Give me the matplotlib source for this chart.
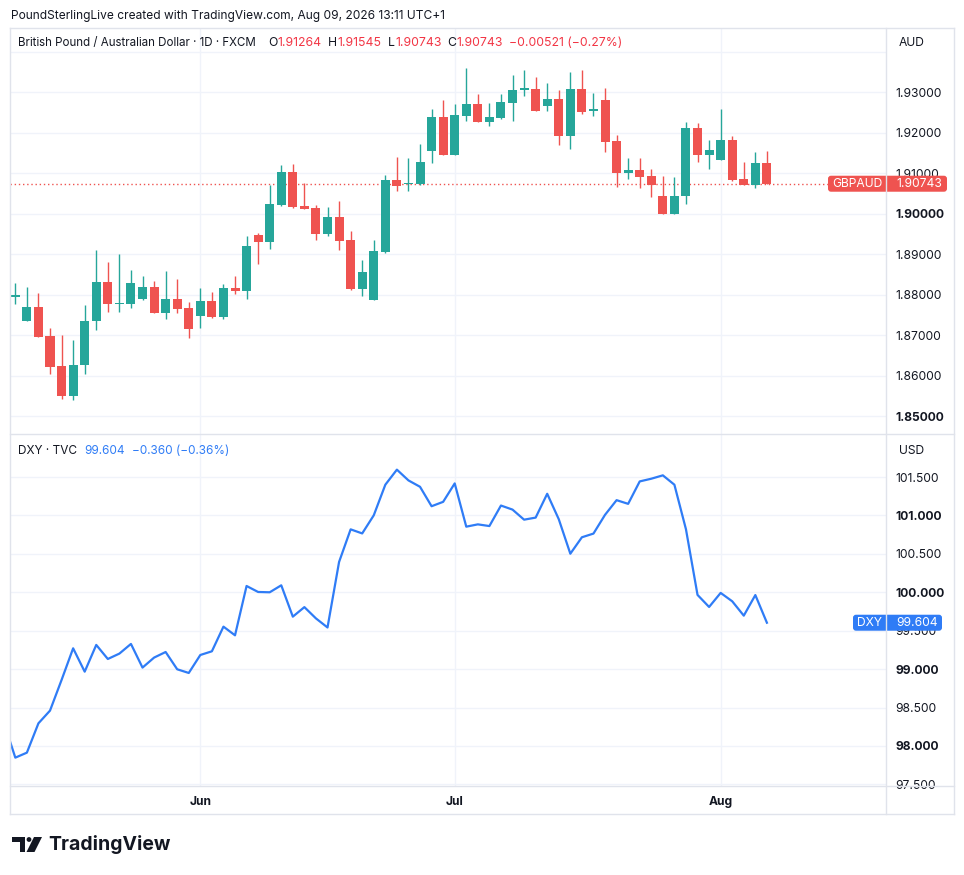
import numpy as np
import matplotlib.pyplot as plt
from matplotlib.lines import Line2D
from matplotlib.patches import FancyBboxPatch, Polygon, Circle
from matplotlib.transforms import IdentityTransform

plt.rcParams['font.family'] = ['Inter', 'DejaVu Sans']

# ---- data (daily bars, 8 May - 7 Aug 2026) ----
gbpaud_open = [1.8795, 1.8736, 1.8770, 1.8698, 1.8624, 1.8551, 1.8627, 1.8734, 1.8832, 1.8776,
               1.8778, 1.8790, 1.8819, 1.8756, 1.8790, 1.8767, 1.8748, 1.8785, 1.8746, 1.8817,
               1.8809, 1.8947, 1.8931, 1.9022, 1.9103, 1.9019, 1.9014, 1.8950, 1.8992, 1.8935,
               1.8814, 1.8787, 1.8906, 1.9083, 1.9073, 1.9073, 1.9155, 1.9239, 1.9145, 1.9242,
               1.9271, 1.9226, 1.9236, 1.9274, 1.9307, 1.9308, 1.9266, 1.9283, 1.9192, 1.9308,
               1.9254, 1.9281, 1.9179, 1.9101, 1.9107, 1.9093, 1.9045, 1.8999, 1.9044, 1.9212,
               1.9145, 1.9133, 1.9182, 1.9085, 1.9071, 1.91264]
gbpaud_high = [1.8828, 1.8819, 1.8804, 1.8718, 1.8701, 1.8688, 1.8775, 1.8911, 1.8881, 1.8901,
               1.8861, 1.8846, 1.8834, 1.8859, 1.8839, 1.8781, 1.8817, 1.8807, 1.8827, 1.8846,
               1.8945, 1.8952, 1.9071, 1.9121, 1.9123, 1.9076, 1.9021, 1.9017, 1.9031, 1.8957,
               1.8885, 1.8935, 1.9096, 1.9140, 1.9138, 1.9172, 1.9259, 1.9281, 1.9271, 1.9360,
               1.9296, 1.9274, 1.9296, 1.9343, 1.9355, 1.9338, 1.9323, 1.9306, 1.9350, 1.9355,
               1.9298, 1.9311, 1.9194, 1.9137, 1.9137, 1.9110, 1.9093, 1.9090, 1.9226, 1.9224,
               1.9182, 1.9259, 1.9192, 1.9127, 1.9152, 1.91545]
gbpaud_low = [1.8778, 1.8736, 1.8696, 1.8605, 1.8543, 1.8541, 1.8605, 1.8714, 1.8758, 1.8758,
              1.8768, 1.8786, 1.8756, 1.8741, 1.8756, 1.8694, 1.8719, 1.8743, 1.8739, 1.8803,
              1.8789, 1.8876, 1.8913, 1.9020, 1.9015, 1.9012, 1.8936, 1.8945, 1.8911, 1.8812,
              1.8797, 1.8787, 1.8903, 1.9057, 1.9057, 1.9072, 1.9126, 1.9145, 1.9145, 1.9229,
              1.9226, 1.9217, 1.9234, 1.9229, 1.9292, 1.9254, 1.9254, 1.9169, 1.9160, 1.9246,
              1.9241, 1.9152, 1.9066, 1.9086, 1.9064, 1.9041, 1.8999, 1.8999, 1.9024, 1.9128,
              1.9111, 1.9133, 1.9081, 1.9071, 1.9064, 1.90743]
gbpaud_close = [1.8797, 1.8770, 1.8696, 1.8622, 1.8551, 1.8627, 1.8735, 1.8832, 1.8776, 1.8780,
                1.8829, 1.8819, 1.8756, 1.8790, 1.8766, 1.8716, 1.8785, 1.8746, 1.8817, 1.8810,
                1.8920, 1.8931, 1.9024, 1.9103, 1.9017, 1.9012, 1.8950, 1.8992, 1.8933, 1.8814,
                1.8855, 1.8907, 1.9083, 1.9069, 1.9074, 1.9127, 1.9239, 1.9145, 1.9244, 1.9271,
                1.9226, 1.9239, 1.9276, 1.9306, 1.9308, 1.9254, 1.9283, 1.9192, 1.9308, 1.9251,
                1.9255, 1.9177, 1.9101, 1.9107, 1.9091, 1.9071, 1.8999, 1.9045, 1.9212, 1.9145,
                1.9157, 1.9182, 1.9083, 1.9071, 1.91264, 1.90743]

# DXY closes, starting one day earlier (7 May)
dxy_close = [98.31, 97.848, 97.913, 98.295, 98.460, 98.859, 99.271, 98.967, 99.315, 99.132,
             99.202, 99.328, 99.020, 99.150, 99.223, 98.998, 98.950, 99.184, 99.232, 99.553,
             99.440, 100.082, 100.004, 100.000, 100.091, 99.683, 99.807, 99.660, 99.542, 100.395,
             100.819, 100.766, 101.002, 101.400, 101.596, 101.456, 101.373, 101.120, 101.177, 101.417,
             100.854, 100.884, 100.862, 101.129, 101.076, 100.945, 100.972, 101.282, 100.951, 100.502,
             100.716, 100.764, 101.008, 101.199, 101.151, 101.443, 101.478, 101.522, 101.400, 100.820,
             99.966, 99.809, 99.992, 99.883, 99.696, 99.964, 99.604]

month_labels = ['Jun', 'Jul', 'Aug']
month_bar = [16, 38, 61]          # first bar of each month
price_ticks = [1.85, 1.86, 1.87, 1.88, 1.89, 1.90, 1.91, 1.92, 1.93, 1.94]
dxy_ticks = [97.5, 98.0, 98.5, 99.0, 99.5, 100.0, 100.5, 101.0, 101.5]

GREEN = '#26a69a'
RED = '#ef5350'
TXT_RED = '#f23645'
BLUE = '#2f7cf6'
DARK = '#131722'
GRID = '#f0f3fa'
FRAME = '#e0e3eb'

W, H = 964, 875
fig = plt.figure(figsize=(W / 100, H / 100), dpi=100)
fig.patch.set_facecolor('white')


def rect(x0, y0, x1, y1):
    # pixel box (top-left origin) -> figure fraction
    return [x0 / W, 1 - y1 / H, (x1 - x0) / W, (y1 - y0) / H]


ax1 = fig.add_axes(rect(10, 28, 886, 434))
ax2 = fig.add_axes(rect(10, 434, 886, 786), sharex=ax1)

o = np.array(gbpaud_open)
hi = np.array(gbpaud_high)
lo = np.array(gbpaud_low)
c = np.array(gbpaud_close)
x = np.arange(len(o))
col = np.where(c >= o, GREEN, RED)

ax1.vlines(x, lo, hi, colors=col, linewidth=1.0, zorder=3)
body_low = np.minimum(o, c)
body_h = np.maximum(np.abs(c - o), 0.0004)
ax1.bar(x, body_h, bottom=body_low, width=0.78, color=col, linewidth=0, zorder=4)
ax1.axhline(c[-1], color=RED, linewidth=1.0, linestyle=(0, (1, 2)), zorder=2)

xd = np.arange(-1, len(dxy_close) - 1)
ax2.plot(xd, dxy_close, color=BLUE, linewidth=1.6, zorder=3)

ax1.set_xlim(-0.46, 75.3)
ax1.set_ylim(1.8456, 1.9459)
ax2.set_ylim(97.479, 102.06)

for ax, ticks in [(ax1, price_ticks), (ax2, dxy_ticks)]:
    for s in ax.spines.values():
        s.set_visible(False)
    ax.set_yticks(ticks)
    ax.yaxis.tick_right()
    ax.tick_params(axis='y', length=0, pad=7, labelsize=8.7, labelcolor=DARK)
    ax.set_xticks(month_bar)
    ax.grid(True, color=GRID, linewidth=1.0, zorder=0)
    ax.set_axisbelow(True)

labs = []
for v in price_ticks:
    labs.append('' if v > 1.935 else '%.5f' % v)
ax1.set_yticklabels(labs)
for lab, v in zip(ax1.get_yticklabels(), price_ticks):
    if abs(v * 20 - round(v * 20)) < 1e-6:
        lab.set_fontweight('bold')
ax2.set_yticklabels(['%.3f' % v for v in dxy_ticks])
for lab, v in zip(ax2.get_yticklabels(), dxy_ticks):
    if v == int(v):
        lab.set_fontweight('bold')

ax1.tick_params(axis='x', length=0, labelbottom=False)
ax2.set_xticklabels(month_labels)
ax2.tick_params(axis='x', length=0, pad=7, labelsize=8.7, labelcolor=DARK)
for lab in ax2.get_xticklabels():
    lab.set_fontweight('bold')

fig.canvas.draw()
renderer = fig.canvas.get_renderer()
ident = IdentityTransform()


def line(x0, y0, x1, y1, z=10):
    fig.add_artist(Line2D([x0, x1], [H - y0, H - y1], transform=ident,
                          color=FRAME, linewidth=1.0, zorder=z))


def label(x0, y, s, color, size, **kw):
    return fig.text(x0, H - y, s, transform=ident, fontsize=size, color=color,
                    ha='left', va='center', **kw)


def runs(x0, y, parts, size):
    # parts: (text, colour, gap after) drawn one after another
    for s, color, gap in parts:
        t = label(x0, y, s, color, size)
        x0 += t.get_window_extent(renderer).width + gap


def price_tag(ax, value, name, text, color, x0, x1, x2):
    yc = ax.transData.transform((0, value))[1]
    hgt = 16
    fig.add_artist(FancyBboxPatch((x0, yc - hgt / 2), x2 - x0, hgt, transform=ident,
                                  boxstyle='round,pad=0,rounding_size=3',
                                  fc=color, ec='none', zorder=8))
    fig.text((x0 + x1) / 2, yc, name, transform=ident, fontsize=8.7, color='white',
             ha='center', va='center', zorder=9)
    fig.text(x1 + 10, yc, text, transform=ident, fontsize=8.7, color='white',
             ha='left', va='center', zorder=9)


price_tag(ax1, c[-1], 'GBPAUD', '%.5f' % c[-1], RED, 828, 886, 947)
price_tag(ax2, dxy_close[-1], 'DXY', '%.3f' % dxy_close[-1], BLUE, 853, 886, 942)

# frame
line(10, 28, 954, 28)
line(10, 814, 954, 814)
line(10, 28, 10, 814)
line(954, 28, 954, 814)
line(886, 28, 886, 814)
line(10, 434, 954, 434)
line(10, 786, 954, 786)

label(11, 15.5, 'PoundSterlingLive created with TradingView.com, Aug 09, 2026 13:11 UTC+1',
      DARK, 8.6)

chg = c[-1] - c[-2]
label(18, 43, 'British Pound / Australian Dollar · 1D · FXCM', DARK, 8.3)
runs(268, 43, [('O', DARK, 0.5), ('%.5f' % o[-1], TXT_RED, 6),
               ('H', DARK, 0.5), ('%.5f' % hi[-1], TXT_RED, 6),
               ('L', DARK, 0.5), ('%.5f' % lo[-1], TXT_RED, 6),
               ('C', DARK, 0.5), ('%.5f' % c[-1], TXT_RED, 6),
               ('\u2212%.5f (\u2212%.2f%%)' % (-chg, -chg / c[-2] * 100), TXT_RED, 0)], 8.8)

dchg = dxy_close[-1] - dxy_close[-2]
label(18, 451.5, 'DXY · TVC', DARK, 8.5)
runs(84, 451.5, [('%.3f' % dxy_close[-1], BLUE, 8),
                 ('\u2212%.3f (\u2212%.2f%%)' % (-dchg, -dchg / dxy_close[-2] * 100), BLUE, 0)],
     8.5)

fig.text(912, H - 43, 'AUD', transform=ident, fontsize=8.7, color=DARK, ha='center', va='center')
fig.text(912, H - 451, 'USD', transform=ident, fontsize=8.7, color=DARK, ha='center', va='center')

# TradingView logo
fig.add_artist(Polygon([(12, H - 837), (25, H - 837), (25, H - 852), (20, H - 852),
                        (20, H - 842), (12, H - 842)], closed=True, transform=ident,
                       fc=DARK, ec='none'))
fig.add_artist(Circle((29, H - 839.5), 2.4, transform=ident, fc=DARK, ec='none'))
fig.add_artist(Polygon([(34, H - 837), (42, H - 837), (34.5, H - 852), (26.5, H - 852)],
                       closed=True, transform=ident, fc=DARK, ec='none'))
fig.text(48, H - 845, 'TradingView', transform=ident, fontsize=14, fontweight='bold',
         color=DARK, ha='left', va='center')

fig.savefig('out.png', dpi=100, facecolor='white')
